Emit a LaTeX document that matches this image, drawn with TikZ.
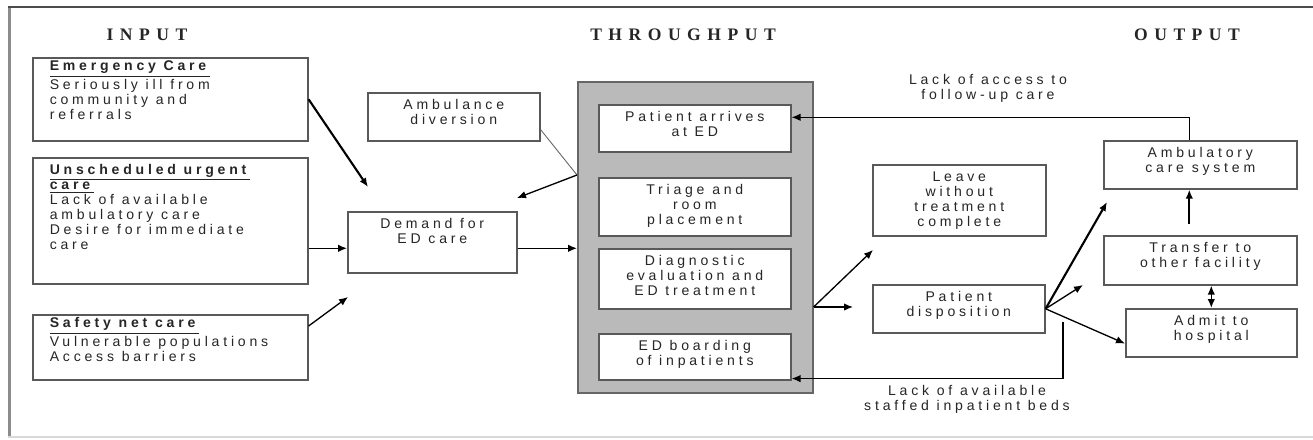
\documentclass[tikz,border=0pt]{standalone}
\usepackage{fontspec}
\setmainfont{Liberation Sans}[LetterSpace=27]
\newfontfamily\titlefont{Liberation Serif}[LetterSpace=37]
\usetikzlibrary{arrows.meta}
\usetikzlibrary{calc,positioning}

\begin{document}
\begin{tikzpicture}[x=0.2mm,y=-0.2mm,
	caja/.style={draw=black!65, line width=0.9pt, fill=white, anchor=north west,
		inner xsep=3.4mm, inner ysep=1.2mm, text height=5.095mm, align=center,
		font=\fontsize{8}{8.5}\selectfont, text=black!85},
	entrada/.style={caja, align=left},
	titulo/.style={font=\titlefont\bfseries\fontsize{10}{12}\selectfont, text=black!85},
	nota/.style={font=\fontsize{8}{8.5}\selectfont, align=center, text=black!85},
	flecha/.style={-{Latex[length=1.8mm,width=1.5mm]}, line width=0.75pt},
	gruesa/.style={flecha, line width=1.2pt}]

% marco
	\useasboundingbox (0,0) rectangle (1313,439);
	\fill[white] (0,0) rectangle (1313,439);
	\draw[black!45, line width=0.6mm] (9,7) -- (9,438);
	\draw[black!70, line width=0.3mm] (8,7) -- (1313,7);
	\draw[black!15, line width=0.3mm] (8,437) -- (1313,437);

% titulos
	\node[titulo] (tin) at (147,35) {INPUT};
	\node[titulo] (tthru) at (683,35) {THROUGHPUT};
	\node[titulo] (tout) at (1187,35) {OUTPUT};

% entradas
	\node[entrada, text height=11.069mm, text depth=3.131mm] (emerg) at (32,57)
		{\makebox[48.2mm][l]{\underline{\textbf{Emergency Care}}}\\Seriously ill from\\community and\\referrals};
	\node[entrada, text height=17.043mm, text depth=5.757mm] (unsched) at (32,157)
		{\makebox[48.2mm][l]{\underline{\textbf{Unscheduled urgent}}}\\\underline{\textbf{care}}\\Lack of available\\
		ambulatory care\\Desire for immediate\\care};
	\node[entrada, text height=8.082mm, text depth=2.518mm] (safety) at (32,314)
		{\makebox[48.2mm][l]{\underline{\textbf{Safety net care}}}\\Vulnerable populations\\Access barriers};
	\node[caja, minimum width=34.4mm, text depth=2.105mm] (ambdiv) at (367,92) {Ambulance\\diversion};
	\node[caja, minimum width=33.8mm, text depth=4.705mm] (demand) at (347,211) {Demand for\\ED care};

% proceso
	\node[draw=black!60, line width=0.9pt, fill=black!27, anchor=north west,
		minimum width=47mm, minimum height=62.2mm, inner sep=0] (thru) at (577,81) {};
	\foreach \nombre/\y/\alto/\prof/\texto in {arrive/104/5.095mm/1.905mm/{Patient arrives\\at ED},
			triage/177/8.082mm/1.118mm/{Triage and\\room\\placement},
			diag/248/8.082mm/1.518mm/{Diagnostic\\evaluation and\\ED treatment},
			board/333/5.095mm/1.705mm/{ED boarding\\of inpatients}}
		\node[caja, minimum width=38.4mm, text height=\alto, text depth=\prof] (\nombre) at (598,\y) {\texto};

% salidas
	\node[caja, minimum width=34.6mm, text height=11.069mm, text depth=0.731mm] (leave) at (872,164)
		{Leave\\without\\treatment\\complete};
	\node[caja, minimum width=34.4mm, text depth=2.105mm] (dispo) at (872,284) {Patient\\disposition};
	\node[caja, minimum width=38.6mm, text depth=2.105mm] (ambcare) at (1103,140) {Ambulatory\\care system};
	\node[caja, minimum width=38.6mm, text depth=2.305mm] (transfer) at (1103,235) {Transfer to\\other facility};
	\node[caja, minimum width=34.2mm, text depth=2.105mm] (admit) at (1125,308) {Admit to\\hospital};

	\node[nota] (access) at (988,88) {Lack of access to\\follow-up care};
	\node[nota] (beds) at (967,399) {Lack of available\\staffed inpatient beds};

% puntos sueltos
	\coordinate (d1) at (368,187);
	\coordinate (d2) at (517,198);
	\coordinate (d3) at (348,297);
	\coordinate (j1) at (thru.west |- 0,175);
	\coordinate (j2) at (thru.east |- 0,307);
	\coordinate (d4) at (873,250);
	\coordinate (d5) at (853,307);
	\coordinate (d6) at (1107,202);
	\coordinate (d7) at (1083,285);
	\coordinate (b1) at (1063,322);

% flechas
	\draw[gruesa] (emerg.east) -- (d1);
	\draw[flecha] ($(unsched.east |- demand.west)+(0,6)$) -- ($(demand.west)+(0,6)$);
	\draw[flecha] ($(safety.north east)+(0,12)$) -- (d3);
	\draw[black!60, line width=0.5pt] ($(ambdiv.south east)+(0,-12)$) -- (j1);
	\draw[flecha] (j1) -- (d2);
	\draw[flecha] ($(demand.east)+(0,6)$) -- ($(thru.west |- demand.east)+(0,6)$);
	\draw[flecha] (j2) -- (d4);
	\draw[flecha] (j2) -- (d5);
	\draw[gruesa] (dispo.east) -- (d6);
	\draw[flecha] (dispo.east) -- (d7);
	\draw[flecha] (dispo.east) -- ($(admit.south west)+(0,-14)$);
	\draw[gruesa] ($(transfer.north)+(-11,-11)$) -- ($(ambcare.south)+(-11,0)$);
	\draw[{Latex[length=1.8mm,width=1.5mm]}-{Latex[length=1.8mm,width=1.5mm]}, line width=0.9pt]
		(admit.north |- transfer.south) -- (admit.north);
	\draw[flecha] ($(ambcare.north)+(-11,0)$) |- ($(arrive.east)+(0,-11)$);
	\draw[flecha] (b1) |- ($(board.south east)+(0,-2)$);
\end{tikzpicture}
\end{document}
